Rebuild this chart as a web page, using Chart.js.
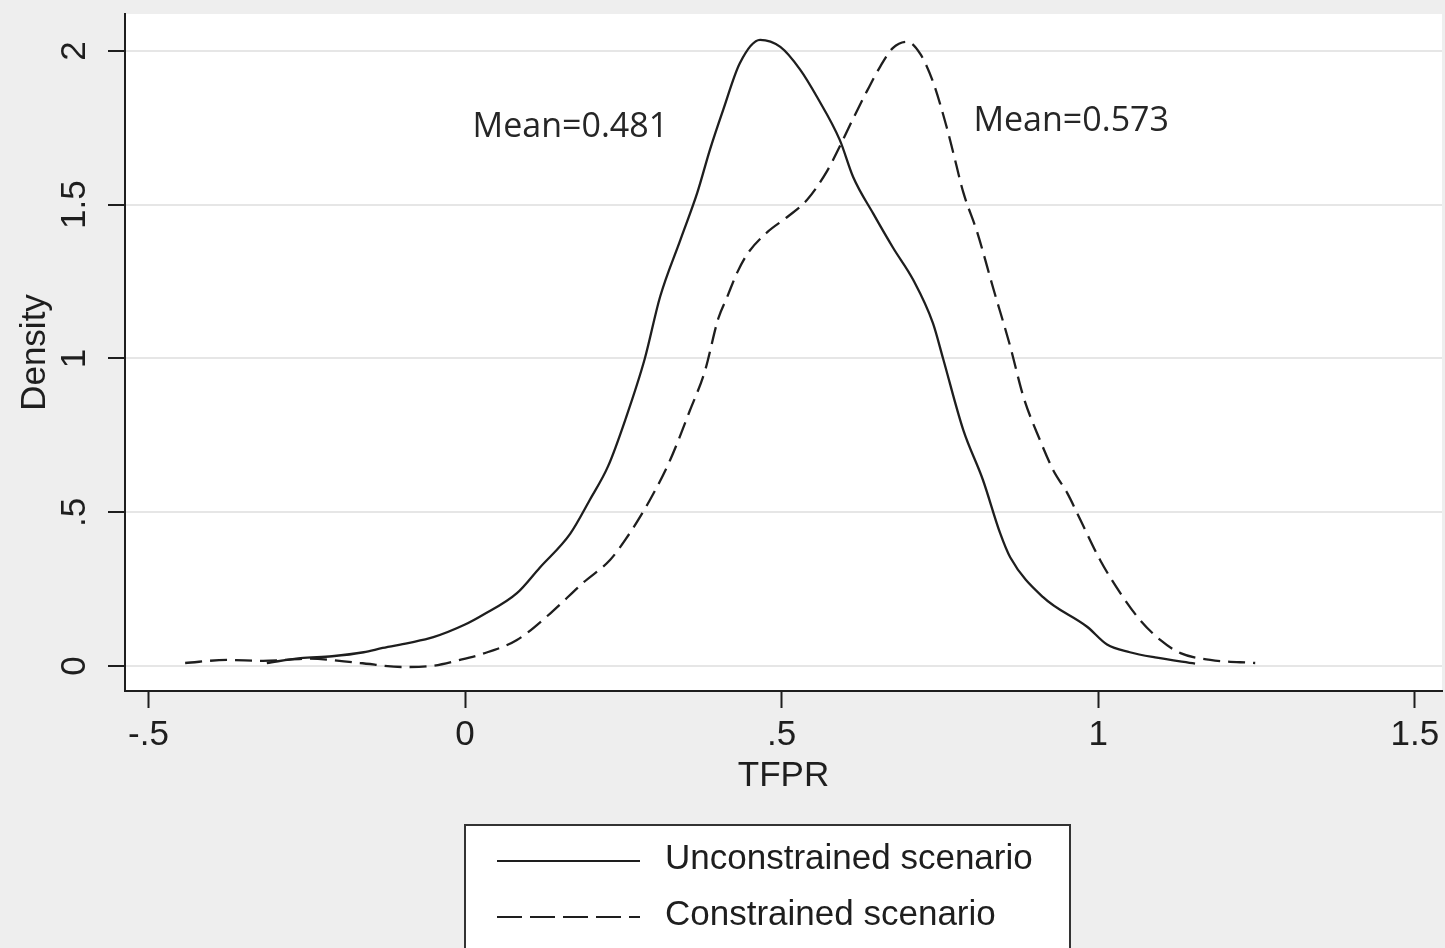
<!DOCTYPE html>
<html>
<head>
<meta charset="utf-8">
<script src="https://cdn.jsdelivr.net/npm/chart.js@4/dist/chart.umd.min.js"></script>
<style>
  html, body { margin: 0; padding: 0; background: #eeeeee; }
  #wrap { width: 1445px; height: 948px; }
</style>
</head>
<body>
<div id="wrap"><canvas id="densityChart"></canvas></div>
<script>
// kernel density, unconstrained scenario (solid)
const tfprUnconstrained = [-0.313, -0.26, -0.21, -0.16, -0.13, -0.09, -0.05, 0, 0.028, 0.082, 0.118, 0.166,
  0.197, 0.226, 0.253, 0.284, 0.308, 0.34, 0.367, 0.387, 0.408, 0.434, 0.466, 0.498, 0.529, 0.556,
  0.592, 0.613, 0.645, 0.676, 0.708, 0.739, 0.755, 0.787, 0.818, 0.845, 0.861, 0.913, 0.983, 1.014,
  1.05, 1.09, 1.153]
const densityUnconstrained = [0.01, 0.026, 0.032, 0.045, 0.059, 0.075, 0.094, 0.135, 0.166, 0.237, 0.32, 0.43,
  0.54, 0.65, 0.8, 1.0, 1.2, 1.385, 1.54, 1.68, 1.81, 1.96, 2.036, 2.013, 1.94, 1.85,
  1.71, 1.59, 1.47, 1.36, 1.255, 1.115, 1.0, 0.767, 0.605, 0.433, 0.354, 0.224, 0.127, 0.07,
  0.045, 0.028, 0.008]

// kernel density, constrained scenario (dashed)
const tfprConstrained = [-0.442, -0.376, -0.319, -0.245, -0.166, -0.098, -0.055, -0.008, 0.028, 0.082, 0.134,
  0.186, 0.229, 0.253, 0.292, 0.324, 0.355, 0.379, 0.4, 0.414, 0.43, 0.446, 0.477, 0.509, 0.54,
  0.572, 0.592, 0.613, 0.635, 0.656, 0.676, 0.698, 0.719, 0.739, 0.761, 0.771, 0.787, 0.809, 0.834,
  0.861, 0.882, 0.908, 0.929, 0.951, 0.972, 1.003, 1.035, 1.066, 1.098, 1.13, 1.177, 1.248]
const densityConstrained = [0.01, 0.02, 0.017, 0.024, 0.01, -0.003, 0.0, 0.02, 0.04, 0.085, 0.17,
  0.27, 0.345, 0.41, 0.54, 0.67, 0.83, 0.96, 1.13, 1.2, 1.28, 1.34, 1.41, 1.46, 1.515,
  1.61, 1.69, 1.78, 1.87, 1.95, 2.01, 2.03, 1.99, 1.9, 1.75, 1.67, 1.54, 1.41, 1.23,
  1.04, 0.875, 0.735, 0.637, 0.563, 0.475, 0.345, 0.237, 0.15, 0.085, 0.042, 0.02, 0.01]

const seriesLabels = ['Unconstrained scenario', 'Constrained scenario']

const xTickValues = [-0.5, 0, 0.5, 1, 1.5]
const xTickLabels = ['-.5', '0', '.5', '1', '1.5']
const yTickValues = [0, 0.5, 1, 1.5, 2]
const yTickLabels = ['0', '.5', '1', '1.5', '2']

// text notes, placed at data coordinates (left edge, middle)
const meanNotes = ['Mean=0.481', 'Mean=0.573']
const meanNoteX = [0.012, 0.803]
const meanNoteY = [1.753, 1.77]

const toPoints = (xs, ys) => xs.map((x, i) => ({ x: x, y: ys[i] }))

const ink = '#1e1e1e'
const axisFont = { family: 'Liberation Sans', size: 35 }

const plotBackground = {
  id: 'plotBackground',
  beforeDraw(chart) {
    const { ctx, chartArea: a } = chart
    ctx.save()
    ctx.fillStyle = '#eeeeee'
    ctx.fillRect(0, 0, chart.width, chart.height)
    ctx.fillStyle = '#ffffff'
    ctx.fillRect(a.left, a.top, a.right - a.left, a.bottom - a.top)
    ctx.restore()
  }
}

const meanText = {
  id: 'meanText',
  afterDatasetsDraw(chart) {
    const { ctx, scales } = chart
    ctx.save()
    ctx.font = '34px "Open Sans"'
    ctx.fillStyle = '#262626'
    ctx.textAlign = 'left'
    ctx.textBaseline = 'middle'
    meanNotes.forEach((t, i) => {
      ctx.fillText(t, scales.x.getPixelForValue(meanNoteX[i]), scales.y.getPixelForValue(meanNoteY[i]))
    })
    ctx.restore()
  }
}

const legendBox = {
  id: 'legendBox',
  afterDraw(chart) {
    const { ctx } = chart
    ctx.save()
    ctx.fillStyle = '#ffffff'
    ctx.fillRect(465, 825, 605, 150)
    ctx.strokeStyle = '#333333'
    ctx.lineWidth = 2
    ctx.strokeRect(465, 825, 605, 150)
    ctx.font = '35px "Liberation Sans"'
    ctx.textBaseline = 'middle'
    chart.data.datasets.forEach((ds, i) => {
      const y = 861 + i * 56
      ctx.beginPath()
      ctx.setLineDash(i === 0 ? [] : [25, 8])
      ctx.strokeStyle = ds.borderColor
      ctx.lineWidth = 2.2
      ctx.moveTo(497, y)
      ctx.lineTo(640, y)
      ctx.stroke()
      ctx.setLineDash([])
      ctx.fillStyle = ink
      ctx.fillText(ds.label, 665, y - 2)
    })
    ctx.restore()
  }
}

new Chart(document.getElementById('densityChart'), {
  type: 'line',
  data: {
    datasets: [{
      label: seriesLabels[0],
      data: toPoints(tfprUnconstrained, densityUnconstrained),
      borderColor: ink,
      borderWidth: 2.3,
      pointRadius: 0,
      cubicInterpolationMode: 'monotone'
    }, {
      label: seriesLabels[1],
      data: toPoints(tfprConstrained, densityConstrained),
      borderColor: ink,
      borderWidth: 2.3,
      borderDash: [17, 8],
      pointRadius: 0,
      cubicInterpolationMode: 'monotone'
    }]
  },
  options: {
    responsive: true,
    maintainAspectRatio: false,
    animation: false,
    layout: { padding: { top: 14, right: 3, left: 0, bottom: 151 } },
    plugins: {
      legend: { display: false },
      tooltip: { enabled: false }
    },
    scales: {
      x: {
        type: 'linear',
        min: -0.537,
        max: 1.543,
        afterBuildTicks: s => { s.ticks = xTickValues.map(v => ({ value: v })) },
        afterFit: s => { s.height = 106; s.paddingLeft = 0; s.paddingRight = 0 },
        ticks: {
          callback: (v, i) => xTickLabels[i],
          font: axisFont,
          color: ink,
          padding: 6,
          maxRotation: 0
        },
        grid: { drawOnChartArea: false, tickLength: 17, tickColor: ink, tickWidth: 2 },
        border: { color: ink, width: 2 },
        title: { display: true, text: 'TFPR', font: axisFont, color: ink, padding: 0 }
      },
      y: {
        min: -0.081,
        max: 2.12,
        afterBuildTicks: s => { s.ticks = yTickValues.map(v => ({ value: v })) },
        afterFit: s => { s.width = 125; s.paddingTop = 0; s.paddingBottom = 0 },
        ticks: {
          callback: (v, i) => yTickLabels[i],
          font: axisFont,
          color: ink,
          padding: 8,
          minRotation: 90,
          maxRotation: 90,
          crossAlign: 'center'
        },
        grid: { color: '#e6e6e6', lineWidth: 2, tickLength: 17, tickColor: ink, tickWidth: 2 },
        border: { color: ink, width: 2 },
        title: { display: true, text: 'Density', font: axisFont, color: ink, padding: { top: 14 } }
      }
    }
  },
  plugins: [plotBackground, meanText, legendBox]
})
</script>
</body>
</html>
